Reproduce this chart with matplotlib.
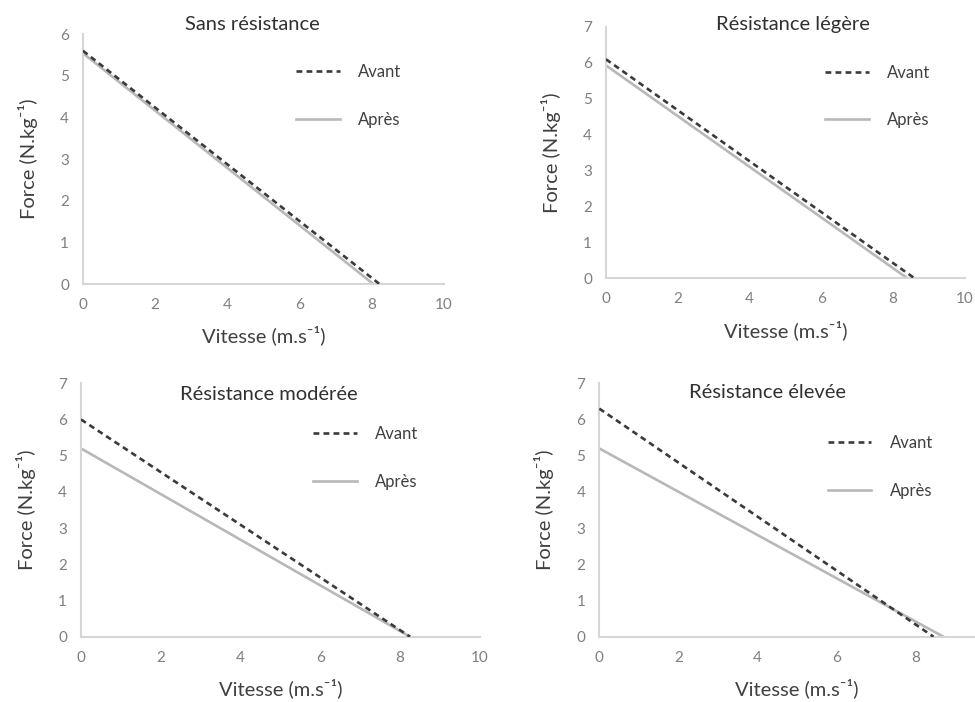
import matplotlib
matplotlib.use('Agg')
import matplotlib.pyplot as plt

plt.rcParams['font.family'] = ['Lato', 'DejaVu Sans']

titles = ['Sans résistance', 'Résistance légère', 'Résistance modérée', 'Résistance élevée']

# each line read as (vitesse, force) at its two ends
avant_x = [[0, 8.22], [0, 8.6], [0, 8.25], [0, 8.45]]
avant_y = [[5.6, 0], [6.1, 0], [6.0, 0], [6.3, 0]]
apres_x = [[0, 8.05], [0, 8.4], [0, 8.25], [0, 8.7]]
apres_y = [[5.54, 0], [5.93, 0], [5.2, 0], [5.2, 0]]

y_max = [6, 7, 7, 7]
x_ticks = [[0, 2, 4, 6, 8, 10]] * 3 + [[0, 2, 4, 6, 8]]

# layout (figure fractions)
positions = [
    [0.0851, 0.5954, 0.370, 0.356],
    [0.6215, 0.6036, 0.368, 0.358],
    [0.0831, 0.0930, 0.409, 0.361],
    [0.6147, 0.0930, 0.4056, 0.361],
]
title_pos = [(0.47, 1.04), (0.52, 1.01), (0.47, 0.954), (0.425, 0.963)]
legend_pos = [(0.55, 0.94), (0.57, 0.91), (0.545, 0.89), (0.54, 0.855)]

fig = plt.figure(figsize=(9.75, 7.02), dpi=100)

for i in range(4):
    ax = fig.add_axes(positions[i])
    ax.plot(avant_x[i], avant_y[i], color='#3a3a3a', lw=1.9, ls=(0, (2.2, 1.6)), label='Avant', zorder=3)
    ax.plot(apres_x[i], apres_y[i], color='#b8b8b8', lw=1.9, label='Après', zorder=2)
    ax.set_xlim(0, 10)
    ax.set_ylim(0, y_max[i])
    ax.set_xticks(x_ticks[i])
    ax.set_yticks(range(y_max[i] + 1))
    ax.tick_params(length=0, labelsize=11, labelcolor='#7f7f7f', pad=10)
    for s in ['top', 'right']:
        ax.spines[s].set_visible(False)
    for s in ['left', 'bottom']:
        ax.spines[s].set_color('#d6d6d6')
        ax.spines[s].set_linewidth(1.5)
    ax.set_xlabel('Vitesse (m.s⁻¹)', fontsize=14.5, color='#404040', labelpad=10)
    ax.set_ylabel('Force (N.kg⁻¹)', fontsize=14.5, color='#404040', labelpad=16)
    ax.text(title_pos[i][0], title_pos[i][1], titles[i], transform=ax.transAxes,
            ha='center', va='center', fontsize=14.5, color='#303030')
    ax.legend(loc='upper left', bbox_to_anchor=legend_pos[i], frameon=False,
              fontsize=12, handlelength=2.6, handletextpad=1.1, labelspacing=1.9,
              labelcolor='#404040')

fig.savefig('out.png', dpi=100)
